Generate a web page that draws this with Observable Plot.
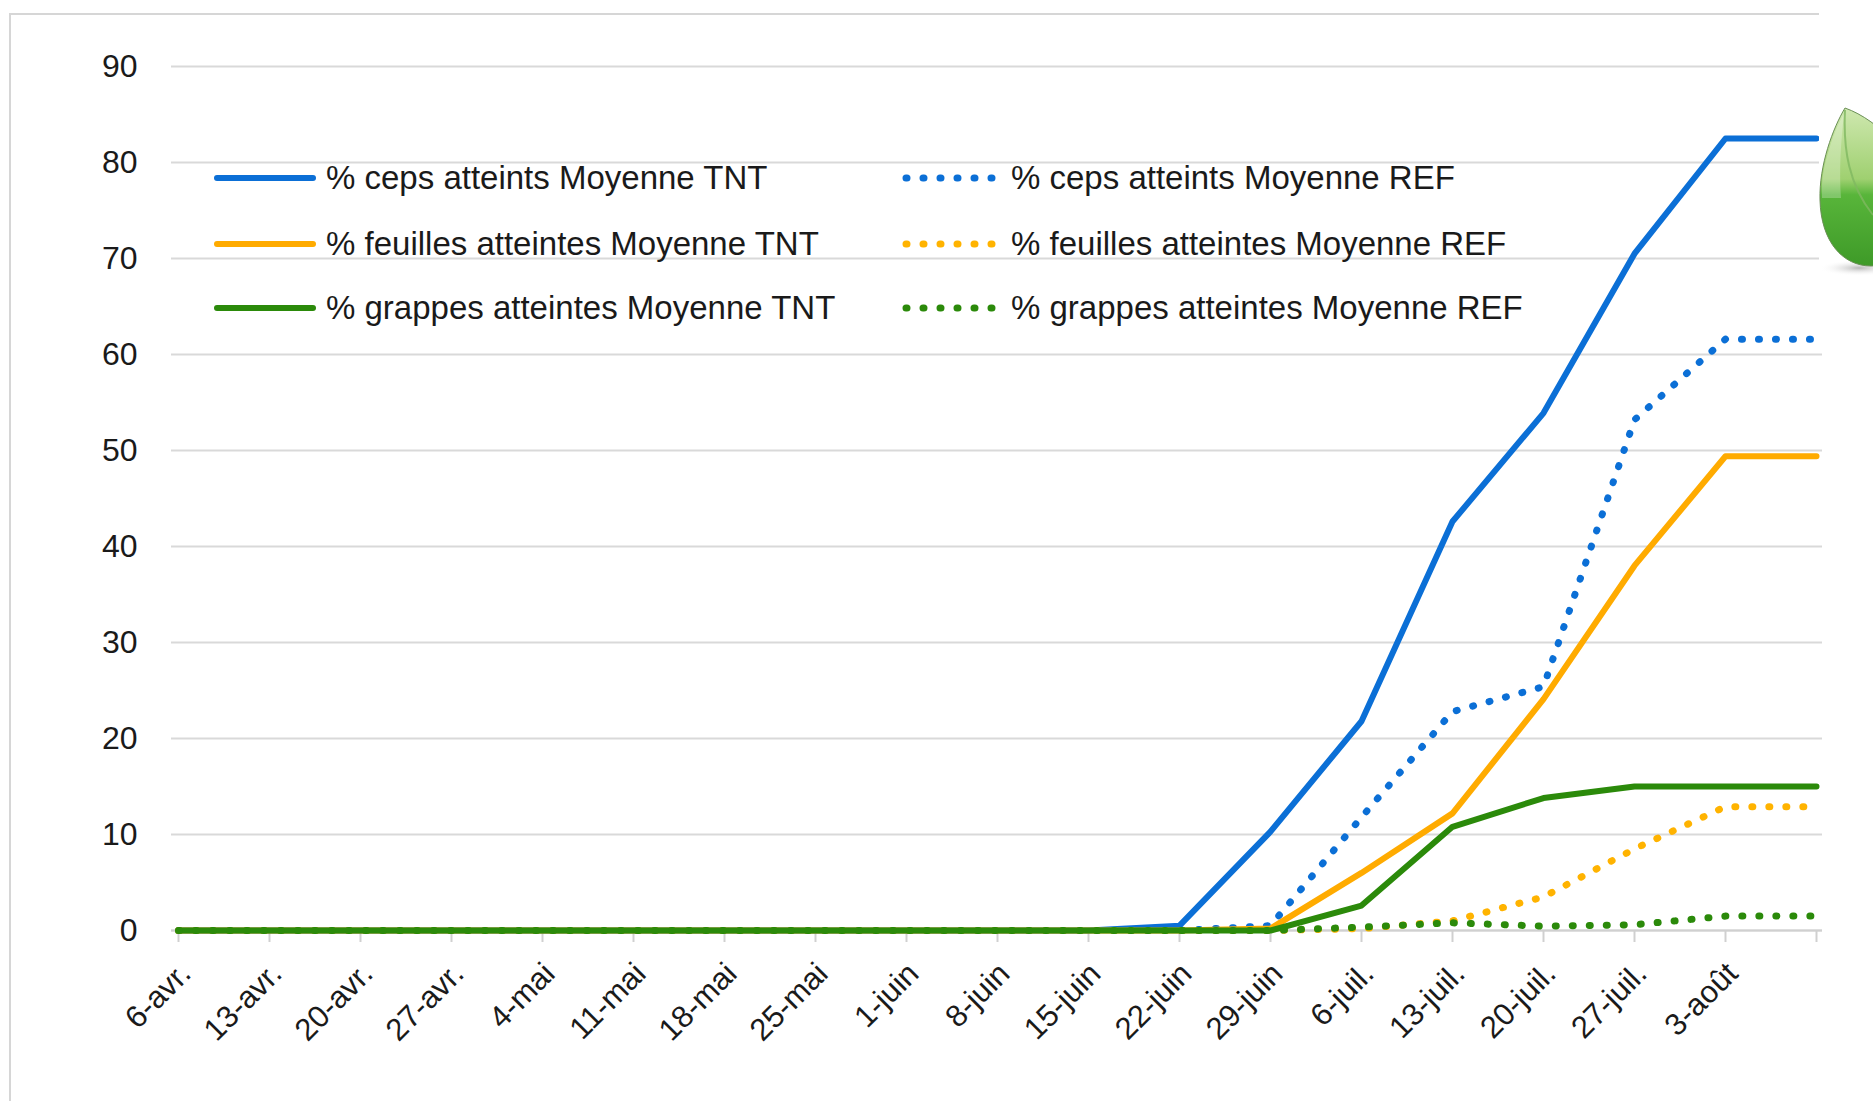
<!DOCTYPE html>
<html><head><meta charset="utf-8">
<script src="https://cdn.jsdelivr.net/npm/d3@7"></script>
<script src="https://cdn.jsdelivr.net/npm/@observablehq/plot@0.6"></script>
<style>
body{margin:0;background:#fff;}
#wrap{position:relative;width:1873px;height:1101px;overflow:hidden;font-family:"Liberation Sans",Arial,sans-serif;background:#fff;}
#frame{position:absolute;left:9px;top:13px;width:2000px;height:2000px;border:2px solid #d6d6d6;box-sizing:border-box;}
#chart{position:absolute;left:0;top:0;}
#legend{position:absolute;left:0;top:0;}
.item{position:absolute;height:40px;display:flex;align-items:center;font-size:33px;color:#1a1a1a;white-space:nowrap;}
.item span{margin-left:9px;}
#leaf{position:absolute;left:1819px;top:0;}
</style></head>
<body>
<div id="wrap">
  <div id="frame"></div>
  <div id="chart"></div>
  <div id="legend"></div>
  <svg id="leaf" width="54" height="300" viewBox="0 0 54 300">
    <defs>
      <linearGradient id="lg" x1="0" y1="0" x2="0" y2="1">
        <stop offset="0" stop-color="#cfe8b0"/>
        <stop offset="0.45" stop-color="#9fd070"/>
        <stop offset="0.55" stop-color="#58b53a"/>
        <stop offset="1" stop-color="#3e9a28"/>
      </linearGradient>
      <radialGradient id="sh" cx="0.5" cy="0.5" r="0.5">
        <stop offset="0" stop-color="#9a9a9a" stop-opacity="0.7"/>
        <stop offset="1" stop-color="#ffffff" stop-opacity="0"/>
      </radialGradient>
    </defs>
    <rect x="0" y="0" width="54" height="300" fill="#fff"/>
    <ellipse cx="40" cy="268" rx="40" ry="8" fill="url(#sh)"/>
    <path d="M26,108 C14,128 0,165 1,200 C2,242 24,266 52,266 C80,266 100,240 100,200 C100,160 60,120 26,108 Z" fill="url(#lg)" stroke="#6a8f55" stroke-width="1"/>
    <path d="M26,110 C24,150 30,185 54,215" fill="none" stroke="#7fb860" stroke-width="2" opacity="0.8"/>
    <path d="M10,150 C14,135 20,122 25,114 C22,140 20,170 22,198 L3,198 C2,180 5,165 10,150 Z" fill="#ffffff" opacity="0.25"/>
  </svg>
</div>
<script>
const dates = ["6-avr.","13-avr.","20-avr.","27-avr.","4-mai","11-mai","18-mai","25-mai","1-juin","8-juin","15-juin","22-juin","29-juin","6-juil.","13-juil.","20-juil.","27-juil.","3-août","10-août"];
const tickLabels = ["6-avr.","13-avr.","20-avr.","27-avr.","4-mai","11-mai","18-mai","25-mai","1-juin","8-juin","15-juin","22-juin","29-juin","6-juil.","13-juil.","20-juil.","27-juil.","3-août",""];
const yTicks = [0,10,20,30,40,50,60,70,80,90];

const cepsTNT     = [0,0,0,0,0,0,0,0,0,0,0,0.5,10.3,21.8,42.6,53.9,70.5,82.5,82.5];
const cepsREF     = [0,0,0,0,0,0,0,0,0,0,0,0,0.5,11.8,22.8,25.4,53.2,61.6,61.6];
const feuillesTNT = [0,0,0,0,0,0,0,0,0,0,0,0,0.2,6.0,12.2,24.1,38.0,49.4,49.4];
const feuillesREF = [0,0,0,0,0,0,0,0,0,0,0,0,0,0.2,1.0,3.5,8.5,12.9,12.9];
const grappesTNT  = [0,0,0,0,0,0,0,0,0,0,0,0,0,2.6,10.8,13.8,15.0,15.0,15.0];
const grappesREF  = [0,0,0,0,0,0,0,0,0,0,0,0,0,0.35,0.8,0.45,0.6,1.5,1.5];

const seriesNames = [
  "% ceps atteints Moyenne TNT","% ceps atteints Moyenne REF",
  "% feuilles atteintes Moyenne TNT","% feuilles atteintes Moyenne REF",
  "% grappes atteintes Moyenne TNT","% grappes atteintes Moyenne REF"
];
const seriesValues = [cepsTNT, cepsREF, feuillesTNT, feuillesREF, grappesTNT, grappesREF];
const seriesColors = ["#0b6fd6","#0b6fd6","#ffab00","#ffb300","#2b8a0a","#2b8a0a"];
const seriesDotted = [false,true,false,true,false,true];

const SOLID_W = 6, DOT_W = 7, DOT_DASH = "1 16";

const rows = [];
seriesNames.forEach((name, s) => {
  seriesValues[s].forEach((v, i) => rows.push({series: name, s, date: dates[i], value: v}));
});

const lineMarks = seriesNames.map((name, s) => Plot.line(rows.filter(r => r.s === s), {
  x: "date", y: "value",
  stroke: seriesColors[s],
  strokeWidth: seriesDotted[s] ? DOT_W : SOLID_W,
  strokeDasharray: seriesDotted[s] ? DOT_DASH : null,
  strokeLinecap: "round",
  strokeLinejoin: "round"
}));

const chart = Plot.plot({
  width: 1873, height: 1101,
  marginLeft: 171, marginRight: 51, marginTop: 66, marginBottom: 171,
  style: {fontFamily: '"Liberation Sans", Arial, sans-serif', background: "transparent", overflow: "visible"},
  x: {type: "point", domain: dates, padding: 0, axis: null, label: null},
  y: {domain: [0, 90], axis: null, label: null},
  marks: [
    Plot.gridY(yTicks, {stroke: "#d9d9d9", strokeOpacity: 1, strokeWidth: 2}),
    Plot.ruleY([0], {stroke: "#d0d0d0", strokeWidth: 2}),
    Plot.axisY(yTicks, {tickSize: 0, tickPadding: 34, fontSize: 32, fill: "#1a1a1a", label: null, tickFormat: d => String(d)}),
    Plot.axisX(dates, {tickSize: 12, stroke: "#d0d0d0", strokeWidth: 2, fill: "none", label: null, tickFormat: () => ""}),
    Plot.axisX(dates, {tickSize: 0, tickRotate: -45, tickPadding: 38, dx: 7, fontSize: 31, fill: "#1a1a1a", label: null,
      tickFormat: d => tickLabels[dates.indexOf(d)]}),
    ...lineMarks
  ]
});
document.getElementById("chart").appendChild(chart);

// legend overlay (inside plot area, as in the reference)
const legend = document.getElementById("legend");
const legendOrder = [0, 2, 4, 1, 3, 5];
const colLeft = [213, 902];
const swatchLen = [104, 100];
const rowCenter = [178, 244, 308];
legendOrder.forEach((s, k) => {
  const col = Math.floor(k / 3), row = k % 3;
  const div = document.createElement("div");
  div.className = "item";
  div.style.left = colLeft[col] + "px";
  div.style.top = (rowCenter[row] - 20) + "px";
  const w = swatchLen[col];
  const svgNS = "http://www.w3.org/2000/svg";
  const sv = document.createElementNS(svgNS, "svg");
  sv.setAttribute("width", w); sv.setAttribute("height", 12);
  const ln = document.createElementNS(svgNS, "line");
  ln.setAttribute("x1", 4); ln.setAttribute("x2", w - 4);
  ln.setAttribute("y1", 6); ln.setAttribute("y2", 6);
  ln.setAttribute("stroke", seriesColors[s]);
  ln.setAttribute("stroke-width", seriesDotted[s] ? DOT_W : SOLID_W);
  ln.setAttribute("stroke-linecap", "round");
  if (seriesDotted[s]) ln.setAttribute("stroke-dasharray", DOT_DASH);
  sv.appendChild(ln);
  div.appendChild(sv);
  const sp = document.createElement("span");
  sp.textContent = seriesNames[s];
  div.appendChild(sp);
  legend.appendChild(div);
});
</script>
</body></html>
